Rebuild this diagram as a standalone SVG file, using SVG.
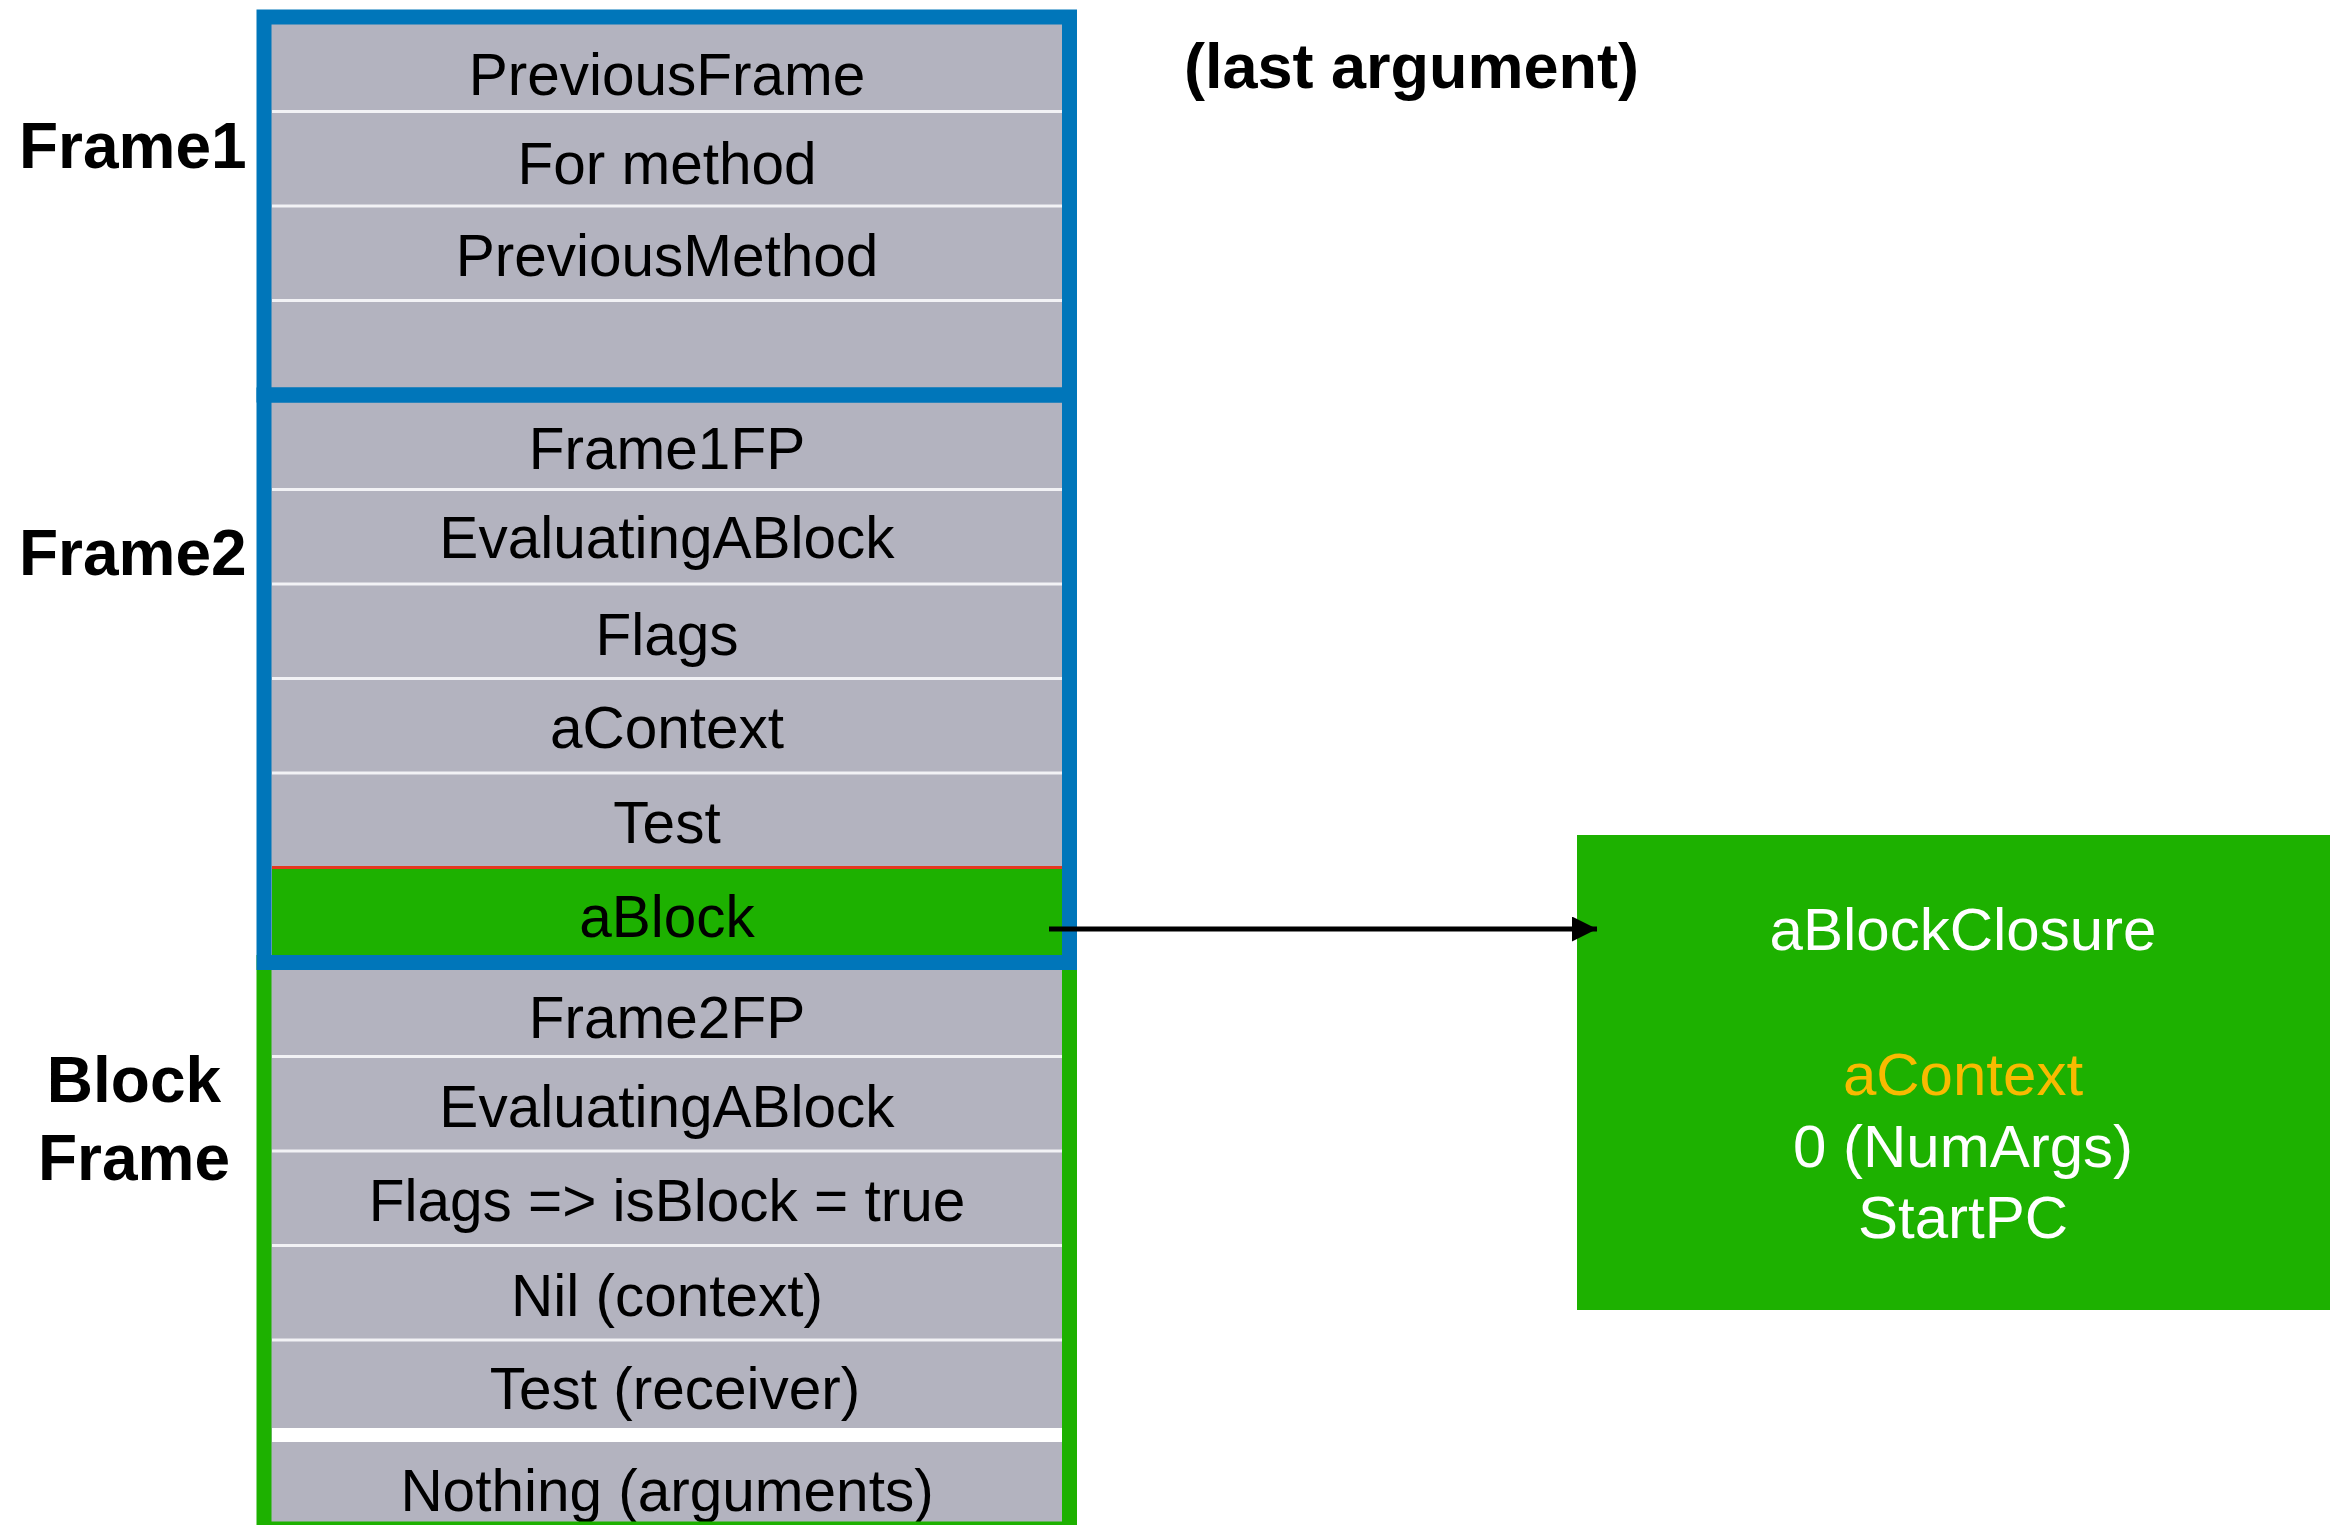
<svg xmlns="http://www.w3.org/2000/svg" width="2330" height="1525" viewBox="0 0 2330 1525">
  <style>
    .cell { fill: #b3b3bf; }
    .sep { stroke: #f2f2f5; stroke-width: 3; }
    .row { font-family: "Liberation Sans", Arial, Helvetica, sans-serif; font-size: 58.5px; fill: #000; text-anchor: middle; }
    .label { font-family: "Liberation Sans", Arial, Helvetica, sans-serif; font-size: 64px; font-weight: bold; fill: #000; }
    .frameBlue { fill: none; stroke: #0076ba; stroke-width: 15; }
    .frameGreen { fill: none; stroke: #1db100; stroke-width: 15; }
    .closure { font-family: "Liberation Sans", Arial, Helvetica, sans-serif; font-size: 60px; fill: #fff; text-anchor: middle; }
  </style>
  <defs>
    <marker id="arrowHead" markerWidth="5" markerHeight="5" refX="5" refY="2.5" orient="auto" markerUnits="strokeWidth">
      <path d="M0,0 L5,2.5 L0,5 Z" fill="#000"/>
    </marker>
  </defs>

  <rect width="2330" height="1525" fill="#fff"/>

  <!-- stack cell background -->
  <rect class="cell" x="264" y="17" width="805" height="1512"/>

  <!-- Block frame (bottom) -->
  <g id="block-frame">
    <line class="sep" x1="272" y1="1056.5" x2="1062" y2="1056.5"/>
    <line class="sep" x1="272" y1="1151" x2="1062" y2="1151"/>
    <line class="sep" x1="272" y1="1245.5" x2="1062" y2="1245.5"/>
    <line class="sep" x1="272" y1="1340" x2="1062" y2="1340"/>
    <rect x="272" y="1428" width="790" height="14" fill="#fff"/>
    <g id="row-frame2fp"><text class="row" x="667" y="1038">Frame2FP</text></g>
    <g id="row-evaluating-2"><text class="row" x="667" y="1127">EvaluatingABlock</text></g>
    <g id="row-flags-2"><text class="row" x="667" y="1221">Flags =&gt; isBlock = true</text></g>
    <g id="row-nil"><text class="row" x="667" y="1316">Nil (context)</text></g>
    <g id="row-test-2"><text class="row" x="675" y="1409">Test (receiver)</text></g>
    <g id="row-nothing"><text class="row" x="667" y="1511">Nothing (arguments)</text></g>
    <rect class="frameGreen" x="264" y="962.5" width="805.5" height="566.5"/>
  </g>

  <!-- Frame2 -->
  <g id="frame2">
    <line class="sep" x1="272" y1="489.5" x2="1062" y2="489.5"/>
    <line class="sep" x1="272" y1="584" x2="1062" y2="584"/>
    <line class="sep" x1="272" y1="678.5" x2="1062" y2="678.5"/>
    <line class="sep" x1="272" y1="773" x2="1062" y2="773"/>
    <rect x="272" y="867.5" width="790" height="95" fill="#1db100"/>
    <line x1="272" y1="867.5" x2="1062" y2="867.5" stroke="#e5371f" stroke-width="3"/>
    <g id="row-frame1fp"><text class="row" x="667" y="469">Frame1FP</text></g>
    <g id="row-evaluating-1"><text class="row" x="667" y="558">EvaluatingABlock</text></g>
    <g id="row-flags-1"><text class="row" x="667" y="655">Flags</text></g>
    <g id="row-acontext"><text class="row" x="667" y="748">aContext</text></g>
    <g id="row-test-1"><text class="row" x="667" y="843">Test</text></g>
    <g id="row-ablock"><text class="row" x="667" y="937">aBlock</text></g>
    <rect class="frameBlue" x="264" y="395" width="805.5" height="567.5"/>
  </g>

  <!-- Frame1 -->
  <g id="frame1">
    <line class="sep" x1="272" y1="111.5" x2="1062" y2="111.5"/>
    <line class="sep" x1="272" y1="206" x2="1062" y2="206"/>
    <line class="sep" x1="272" y1="300.5" x2="1062" y2="300.5"/>
    <g id="row-previousframe"><text class="row" x="667" y="95">PreviousFrame</text></g>
    <g id="row-formethod"><text class="row" x="667" y="184">For method</text></g>
    <g id="row-previousmethod"><text class="row" x="667" y="276">PreviousMethod</text></g>
    <rect class="frameBlue" x="264" y="17" width="805.5" height="378"/>
  </g>

  <!-- frame labels -->
  <g id="label-frame1"><text class="label" x="19" y="168">Frame1</text></g>
  <g id="label-frame2"><text class="label" x="19" y="575">Frame2</text></g>
  <g id="label-block-frame">
    <text class="label" x="134" y="1102" text-anchor="middle">Block</text>
    <text class="label" x="134" y="1180" text-anchor="middle">Frame</text>
  </g>
  <g id="label-last-argument"><text class="label" x="1184" y="88" style="font-size:63px">(last argument)</text></g>

  <!-- block closure object -->
  <g id="block-closure">
    <rect x="1577" y="835" width="760" height="475" fill="#1db100"/>
    <text class="closure" x="1963" y="950">aBlockClosure</text>
    <text class="closure" x="1963" y="1095" style="fill:#f8ba00">aContext</text>
    <text class="closure" x="1963" y="1167">0 (NumArgs)</text>
    <text class="closure" x="1963" y="1238">StartPC</text>
  </g>

  <!-- connectors -->
  <g id="connectors">
    <line x1="1049" y1="929" x2="1597" y2="929" stroke="#000" stroke-width="5" marker-end="url(#arrowHead)"/>
  </g>
</svg>
